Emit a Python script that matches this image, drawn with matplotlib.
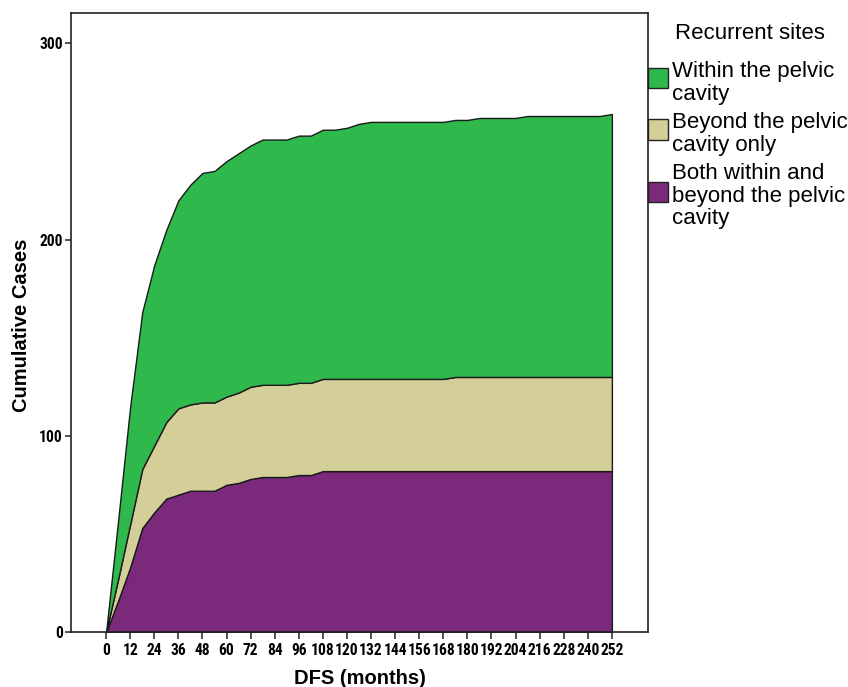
import matplotlib
matplotlib.use("Agg")
import matplotlib.pyplot as plt
from matplotlib.patches import Rectangle
from matplotlib import font_manager

# Follow-up time (months) at which cumulative counts are recorded
months = [0, 6, 12, 18, 24, 30, 36, 42, 48, 54, 60, 66, 72, 78, 84, 90, 96, 102,
          108, 114, 120, 126, 132, 138, 144, 150, 156, 162, 168, 174, 180, 186,
          192, 198, 204, 210, 216, 222, 228, 234, 240, 246, 252]

# Cumulative recurrences by site
both_sites = [0, 16, 33, 53, 61, 68, 70, 72, 72, 72, 75, 76, 78, 79, 79, 79, 80, 80,
              82, 82, 82, 82, 82, 82, 82, 82, 82, 82, 82, 82, 82, 82,
              82, 82, 82, 82, 82, 82, 82, 82, 82, 82, 82]
beyond_only = [0, 11, 22, 30, 34, 39, 44, 44, 45, 45, 45, 46, 47, 47, 47, 47, 47, 47,
               47, 47, 47, 47, 47, 47, 47, 47, 47, 47, 47, 48, 48, 48,
               48, 48, 48, 48, 48, 48, 48, 48, 48, 48, 48]
within_pelvis = [0, 30, 60, 80, 92, 98, 106, 112, 117, 118, 120, 122, 123, 125, 125, 125, 126, 126,
                 127, 127, 128, 130, 131, 131, 131, 131, 131, 131, 131, 131, 131, 132,
                 132, 132, 132, 133, 133, 133, 133, 133, 133, 133, 134]

x_ticks = list(range(0, 253, 12))
y_ticks = [0, 100, 200, 300]

legend_title = "Recurrent sites"
legend_labels = [["Within the pelvic", "cavity"],
                 ["Beyond the pelvic", "cavity only"],
                 ["Both within and", "beyond the pelvic", "cavity"]]
colors_top_down = ["#2fb84b", "#d4ce98", "#7a297b"]

# Pick a condensed bold face for tick labels when one is available
installed = {f.name for f in font_manager.fontManager.ttflist}
narrow = [n for n in ["Liberation Sans Narrow", "Roboto Condensed", "Arial Narrow",
                      "DejaVu Sans Condensed"] if n in installed]
if narrow:
    tick_font = dict(family=narrow[0], weight="bold", size=11.2)
else:
    tick_font = dict(family="Liberation Sans", weight="bold", size=9.5)

W, H = 848, 687
fig = plt.figure(figsize=(W / 100, H / 100), dpi=100)
fig.patch.set_facecolor("white")

ax = fig.add_axes([71 / W, 55 / H, 577 / W, 619 / H])
ax.stackplot(months, both_sites, beyond_only, within_pelvis,
             colors=colors_top_down[::-1], edgecolor="#1a1a1a", linewidth=1.0)

ax.set_xlim(-17.5, 270)
ax.set_ylim(0, 315.5)

for side in ["top", "left", "right", "bottom"]:
    ax.spines[side].set_color("#222222")
    ax.spines[side].set_linewidth(1.2)

ax.set_xticks(x_ticks)
ax.set_xticklabels([str(t) for t in x_ticks], fontdict=tick_font)
ax.set_yticks(y_ticks)
ax.set_yticklabels([str(t) for t in y_ticks], fontdict=tick_font)
ax.tick_params(axis="x", length=5, width=1.1, pad=3, color="#222222")
ax.tick_params(axis="y", length=4, width=1.1, pad=2, color="#222222")

label_font = dict(family="Liberation Sans", weight="bold", size=14.5)
fig.text(360 / W, 1 - 678 / H, "DFS (months)", ha="center", va="center", **label_font)
fig.text(22 / W, 1 - 325 / H, "Cumulative Cases", ha="center", va="center",
         rotation=90, **label_font)

# Legend drawn at figure level, to the right of the plot frame
leg_font = dict(family="Liberation Sans", size=16)
fig.text(675 / W, 1 - 39 / H, legend_title, ha="left", va="baseline", **leg_font)

baselines = [[77, 100], [128, 151], [179, 202, 224]]
boxes = [(68, 88), (119, 140), (182, 202)]
for lines, ys, (y0, y1), col in zip(legend_labels, baselines, boxes, colors_top_down):
    fig.patches.append(Rectangle((648 / W, 1 - y1 / H), 20 / W, (y1 - y0) / H,
                                 transform=fig.transFigure, facecolor=col,
                                 edgecolor="#222222", linewidth=1.0, zorder=5))
    for line, yb in zip(lines, ys):
        fig.text(672 / W, 1 - yb / H, line, ha="left", va="baseline", **leg_font)

fig.savefig("out.png", dpi=100, facecolor="white")
